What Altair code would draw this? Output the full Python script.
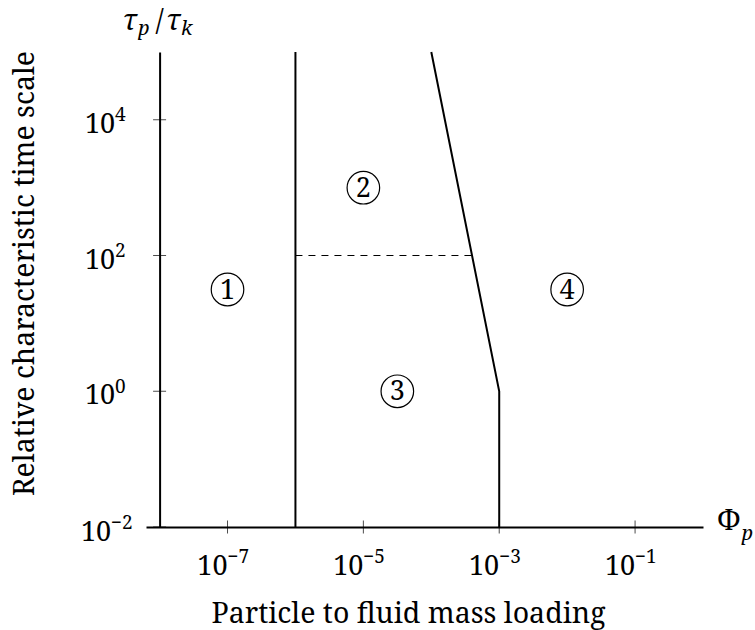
import altair as alt
import pandas as pd

# ---- data -----------------------------------------------------------------
# regime boundaries (particle mass loading, relative time scale)
left_boundary_x = [1e-6, 1e-6]
left_boundary_y = [1e-2, 1e5]
right_boundary_x = [1e-4, 1e-3, 1e-3]
right_boundary_y = [1e5, 1e0, 1e-2]
dashed_x = [1e-6, 10 ** -3.4]
dashed_y = [1e2, 1e2]

# regime markers
regime_labels = ["1", "2", "3", "4"]
regime_x = [1e-7, 1e-5, 10 ** -4.5, 1e-2]
regime_y = [10 ** 1.5, 1e3, 1e0, 10 ** 1.5]

# tick positions and exponents
x_ticks = [1e-7, 1e-5, 1e-3, 1e-1]
x_tick_exp = ["\u22127", "\u22125", "\u22123", "\u22121"]
y_ticks = [1e-2, 1e0, 1e2, 1e4]
y_tick_exp = ["\u22122", "0", "2", "4"]

X_MIN, X_MAX = 10 ** -8.2, 1.0
Y_MIN, Y_MAX = 1e-2, 1e5
Y_AXIS_AT = 1e-8

FONT = "Noto Serif"
TITLE_SIZE = 28.5
LABEL_SIZE = 27
EXP_SIZE = 19
W, H = 557, 475

# ---- shared encodings -------------------------------------------------------
x_scale = alt.Scale(type="log", domain=[X_MIN, X_MAX], nice=False)
y_scale = alt.Scale(type="log", domain=[Y_MIN, Y_MAX], nice=False)

x_axis = alt.Axis(
    title="Particle to fluid mass loading", labels=False, ticks=False, grid=False,
    domainColor="black", domainWidth=2,
    titleFont=FONT, titleFontSize=TITLE_SIZE, titleFontWeight="normal", titleColor="black",
    titleX=262, titleY=95, titleAlign="center", titleBaseline="alphabetic",
)
y_axis = alt.Axis(
    title="Relative characteristic time scale", labels=False, ticks=False, grid=False,
    domainColor="black", domainWidth=2, offset=-13.6,
    titleFont=FONT, titleFontSize=TITLE_SIZE, titleFontWeight="normal", titleColor="black",
    titleX=-126, titleY=221, titleAlign="center", titleBaseline="alphabetic",
)

X = alt.X("x:Q", scale=x_scale, axis=x_axis)
Y = alt.Y("y:Q", scale=y_scale, axis=y_axis)

# ---- tables -----------------------------------------------------------------
lines = pd.DataFrame({
    "x": left_boundary_x + right_boundary_x,
    "y": left_boundary_y + right_boundary_y,
    "seg": ["a"] * len(left_boundary_x) + ["b"] * len(right_boundary_x),
    "ord": list(range(len(left_boundary_x))) + list(range(len(right_boundary_x))),
})
dashed = pd.DataFrame({"x": dashed_x, "y": dashed_y, "ord": [0, 1]})
regimes = pd.DataFrame({"x": regime_x, "y": regime_y, "label": regime_labels})
xt = pd.DataFrame({"x": x_ticks, "y": [Y_MIN] * len(x_ticks), "exp": x_tick_exp})
yt = pd.DataFrame({"x": [Y_AXIS_AT] * len(y_ticks), "y": y_ticks, "exp": y_tick_exp})
corner = pd.DataFrame({"x": [Y_AXIS_AT], "y": [Y_MAX]})
x_end = pd.DataFrame({"x": [X_MAX], "y": [Y_MIN]})

# ---- layers -----------------------------------------------------------------
boundaries = alt.Chart(lines).mark_line(color="black", strokeWidth=2).encode(
    x=X, y=Y, detail="seg:N", order="ord:Q"
)
dash = alt.Chart(dashed).mark_line(color="black", strokeWidth=1.1, strokeDash=[7, 6]).encode(
    x=X, y=Y, order="ord:Q"
)
circles = alt.Chart(regimes).mark_point(
    shape="circle", size=1060, filled=False, color="black", strokeWidth=1.2, opacity=1
).encode(x=X, y=Y)
circle_text = alt.Chart(regimes).mark_text(
    font=FONT, fontSize=LABEL_SIZE, baseline="middle", align="center", color="black", dy=1
).encode(x=X, y=Y, text="label:N")

x_tick_marks = alt.Chart(xt).mark_tick(orient="vertical", size=13, thickness=1, color="black").encode(x=X, y=Y)
y_tick_marks = alt.Chart(yt).mark_tick(orient="horizontal", size=13, thickness=1, color="black").encode(x=X, y=Y)


def txt(df, text, size, dx, dy, align="left", italic=False, filt=None):
    ch = alt.Chart(df)
    if filt is not None:
        ch = ch.transform_filter(filt)
    enc = {"x": X, "y": Y}
    enc["text"] = alt.value(text) if text is not None else alt.Text("exp:N")
    props = dict(font=FONT, fontSize=size, align=align, baseline="alphabetic",
                 dx=dx, dy=dy, color="black")
    if italic:
        props["fontStyle"] = "italic"
    return ch.mark_text(**props).encode(**enc)


x_base = txt(xt, "10", LABEL_SIZE, 0, 48, align="right")
x_exp = txt(xt, None, EXP_SIZE, 0, 36)

y_base_hi = txt(yt, "10", LABEL_SIZE, -44.5, 13, align="right", filt="datum.y > 0.05")
y_exp_hi = txt(yt, None, EXP_SIZE, -44.5, 1.5, filt="datum.y > 0.05")
y_base_lo = txt(yt, "10", LABEL_SIZE, -48.5, 13.5, align="right", filt="datum.y < 0.05")
y_exp_lo = txt(yt, None, EXP_SIZE, -48.5, 2, filt="datum.y < 0.05")

# tau_p / tau_k above the vertical axis
tau1 = txt(corner, "\u03c4", TITLE_SIZE, -37, -22, italic=True)
sub_p = txt(corner, "p", 20, -21.5, -17, italic=True)
slash = txt(corner, "/", TITLE_SIZE, -4, -22)
tau2 = txt(corner, "\u03c4", TITLE_SIZE, 6.5, -22, italic=True)
sub_k = txt(corner, "k", 20, 21.5, -17, italic=True)

# Phi_p at the end of the horizontal axis
phi = txt(x_end, "\u03a6", TITLE_SIZE, 14, 3)
phi_p = txt(x_end, "p", 20, 38.5, 13, italic=True)

chart = alt.layer(
    boundaries, dash, circles, circle_text,
    x_tick_marks, y_tick_marks,
    x_base, x_exp, y_base_hi, y_exp_hi, y_base_lo, y_exp_lo,
    tau1, sub_p, slash, tau2, sub_k, phi, phi_p,
).properties(
    width=W, height=H, background="white",
    autosize=alt.AutoSizeParams(type="none"),
    padding={"left": 146, "top": 52, "right": 52, "bottom": 103},
).configure_view(
    stroke=None
)

chart.save("out.html", embed_options={"renderer": "svg", "actions": False})
